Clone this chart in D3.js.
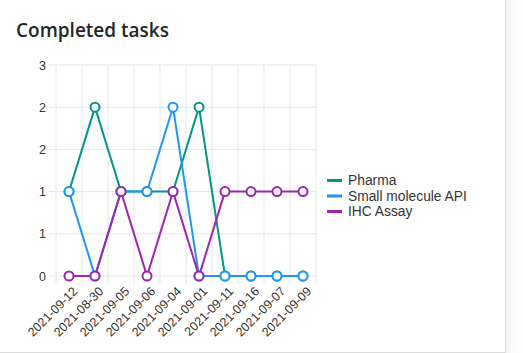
<!DOCTYPE html>
<html>
<head>
<meta charset="utf-8">
<script src="https://cdn.jsdelivr.net/npm/d3@7"></script>
<style>
  body { margin: 0; background: #fcfcfc; }
  .card {
    position: absolute; left: -10px; top: -10px; width: 514px; height: 361px;
    background: #fff; border: 1px solid #dcdcdc;
    box-shadow: 2px 2px 8px rgba(0,0,0,0.07);
  }
  .title {
    position: absolute; left: 16px; top: 17px; margin: 0;
    font-family: "Open Sans", sans-serif; font-weight: 600; font-size: 19px; color: #262626;
  }
  svg { position: absolute; left: 0; top: 0; }
  .tick text { font-family: "Liberation Sans", Arial, sans-serif; font-size: 12.5px; fill: #333; }
  .legend text { font-family: "Liberation Sans", Arial, sans-serif; font-size: 13.8px; fill: #333; }
</style>
</head>
<body>
<div class="card"></div>
<h3 class="title">Completed tasks</h3>
<div id="chart"></div>
<script>
var dates = ['2021-09-12', '2021-08-30', '2021-09-05', '2021-09-06', '2021-09-04',
  '2021-09-01', '2021-09-11', '2021-09-16', '2021-09-07', '2021-09-09'];
var pharma = [1, 2, 1, 1, 1, 2, 0, 0, 0, 0];
var smallMolecule = [1, 0, 1, 1, 2, 0, 0, 0, 0, 0];
var ihcAssay = [0, 0, 1, 0, 1, 0, 1, 1, 1, 1];
var yTicks = [0, 0.5, 1, 1.5, 2, 2.5];

var series = [
  { name: 'Pharma', values: pharma, color: '#009688' },
  { name: 'Small molecule API', values: smallMolecule, color: '#2196F3' },
  { name: 'IHC Assay', values: ihcAssay, color: '#9C27B0' }
];

var svgWidth = 523;
var svgHeight = 353;
var margin = { top: 65, left: 56 };
var width = 260;
var height = 211;

var svg = d3.select('#chart')
  .append('svg')
  .attr('width', svgWidth)
  .attr('height', svgHeight);

var chartGroup = svg.append('g')
  .attr('transform', `translate(${margin.left}, ${margin.top})`);

var x = d3.scaleBand()
  .domain(dates)
  .range([0, width]);

var y = d3.scaleLinear()
  .domain([0, 2.5])
  .range([height, 0]);

// grid lines
chartGroup.append('g')
  .selectAll('line.vgrid')
  .data(d3.range(dates.length + 1))
  .enter()
  .append('line')
  .attr('x1', i => i * x.step())
  .attr('x2', i => i * x.step())
  .attr('y1', 0)
  .attr('y2', height + 7)
  .attr('stroke', '#e6e6e6');

chartGroup.append('g')
  .selectAll('line.hgrid')
  .data(yTicks)
  .enter()
  .append('line')
  .attr('x1', -7)
  .attr('x2', width)
  .attr('y1', d => y(d))
  .attr('y2', d => y(d))
  .attr('stroke', '#e6e6e6');

// axes
var leftAxis = d3.axisLeft(y)
  .tickValues(yTicks)
  .tickSize(0)
  .tickPadding(10)
  .tickFormat(d => Math.round(d));

chartGroup.append('g')
  .call(leftAxis)
  .call(g => g.select('.domain').remove());

var bottomAxis = d3.axisBottom(x).tickSize(0);

chartGroup.append('g')
  .attr('transform', `translate(0, ${height})`)
  .call(bottomAxis)
  .call(g => g.select('.domain').remove())
  .selectAll('text')
  .attr('text-anchor', 'end')
  .attr('dx', 0)
  .attr('dy', 0)
  .attr('transform', 'translate(7, 14) rotate(-45)');

// lines and points
var line = d3.line()
  .x((d, i) => x(dates[i]) + x.bandwidth() / 2)
  .y(d => y(d));

series.forEach(function(s) {
  chartGroup.append('path')
    .datum(s.values)
    .attr('fill', 'none')
    .attr('stroke', s.color)
    .attr('stroke-width', 2)
    .attr('d', line);
});

series.forEach(function(s) {
  chartGroup.selectAll(null)
    .data(s.values)
    .enter()
    .append('circle')
    .attr('cx', (d, i) => x(dates[i]) + x.bandwidth() / 2)
    .attr('cy', d => y(d))
    .attr('r', 4.5)
    .attr('fill', '#fff')
    .attr('stroke', s.color)
    .attr('stroke-width', 2);
});

// legend
var legend = svg.append('g')
  .attr('class', 'legend')
  .attr('transform', 'translate(327, 180.5)');

var items = legend.selectAll('g')
  .data(series)
  .enter()
  .append('g')
  .attr('transform', (d, i) => `translate(0, ${i * 15.5})`);

items.append('line')
  .attr('x1', 0)
  .attr('x2', 15)
  .attr('stroke', d => d.color)
  .attr('stroke-width', 3);

items.append('text')
  .attr('x', 21)
  .attr('dy', '0.35em')
  .text(d => d.name);
</script>
</body>
</html>
